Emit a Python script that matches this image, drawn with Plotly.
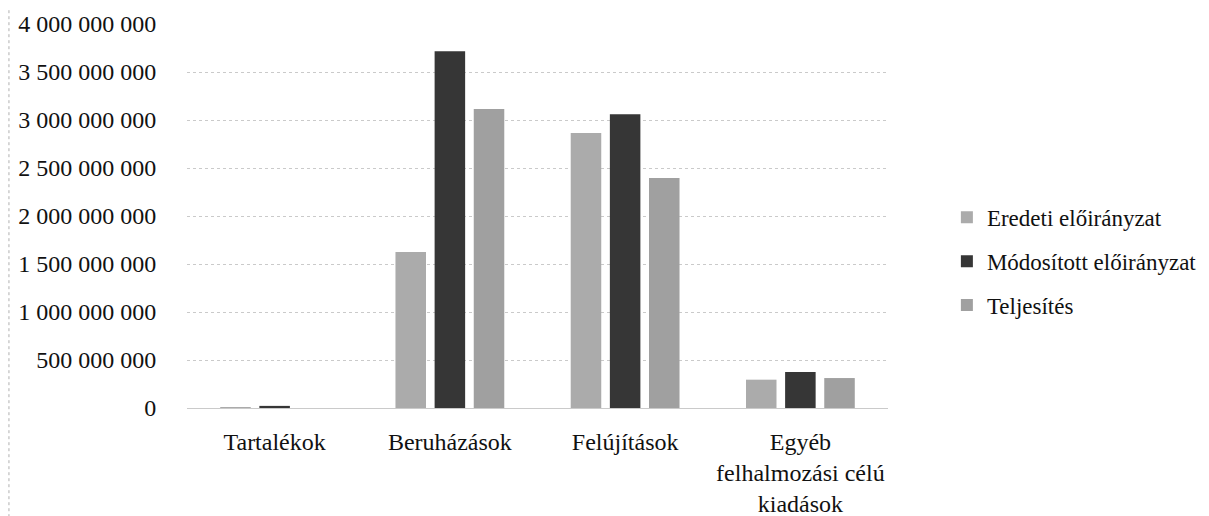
import plotly.graph_objects as go

categories = ["Tartalékok", "Beruházások", "Felújítások", "Egyéb<br>felhalmozási célú<br>kiadások"]
series_names = ["Eredeti előirányzat", "Módosított előirányzat", "Teljesítés"]
eredeti = [5_000_000, 1_625_000_000, 2_865_000_000, 295_000_000]
modositott = [22_000_000, 3_715_000_000, 3_060_000_000, 375_000_000]
teljesites = [0, 3_115_000_000, 2_395_000_000, 312_000_000]
tick_vals = [0, 500_000_000, 1_000_000_000, 1_500_000_000, 2_000_000_000,
             2_500_000_000, 3_000_000_000, 3_500_000_000, 4_000_000_000]
tick_text = ["0", "500 000 000", "1 000 000 000", "1 500 000 000", "2 000 000 000",
             "2 500 000 000", "3 000 000 000", "3 500 000 000", "4 000 000 000"]

colors = ["#ababab", "#363636", "#a0a0a0"]
series = [eredeti, modositott, teljesites]

fig = go.Figure()
for name, vals, col in zip(series_names, series, colors):
    fig.add_trace(go.Bar(
        x=categories, y=vals, name=name, legendgroup=name,
        marker=dict(color=col, line=dict(width=0)),
    ))

font_family = "Liberation Serif"

fig.update_layout(
    width=1209, height=516,
    margin=dict(l=179, r=329, t=16, b=116, autoexpand=False),
    plot_bgcolor="white", paper_bgcolor="white",
    barmode="group", bargap=0.33, bargroupgap=0.22,
    font=dict(family=font_family, size=24, color="#111111"),
    showlegend=True,
    legend=dict(
        x=1.084, y=0.382, xanchor="left", yanchor="middle",
        font=dict(family=font_family, size=23, color="#111111"),
        traceorder="grouped", tracegroupgap=11,
        bgcolor="rgba(0,0,0,0)",
    ),
    xaxis=dict(
        showgrid=False, showline=False, zeroline=False,
        ticks="outside", ticklen=12, tickcolor="rgba(0,0,0,0)",
        tickfont=dict(family=font_family, size=24, color="#111111"),
    ),
    yaxis=dict(
        range=[0, 4_000_000_000],
        tickvals=tick_vals, ticktext=tick_text,
        showgrid=True, gridcolor="#cacaca", griddash="dot", gridwidth=1,
        zeroline=True, zerolinecolor="#cacaca", zerolinewidth=1,
        showline=False,
        ticks="outside", ticklen=25, tickcolor="rgba(0,0,0,0)",
        tickfont=dict(family=font_family, size=24, color="#111111"),
    ),
)

# chart frame dotted left edge
fig.add_shape(type="line", xref="paper", yref="paper",
              x0=-0.254, x1=-0.254, y0=-0.3, y1=1.05,
              line=dict(color="#b0b0b0", width=1, dash="dot"))

fig.write_html("out.html")
